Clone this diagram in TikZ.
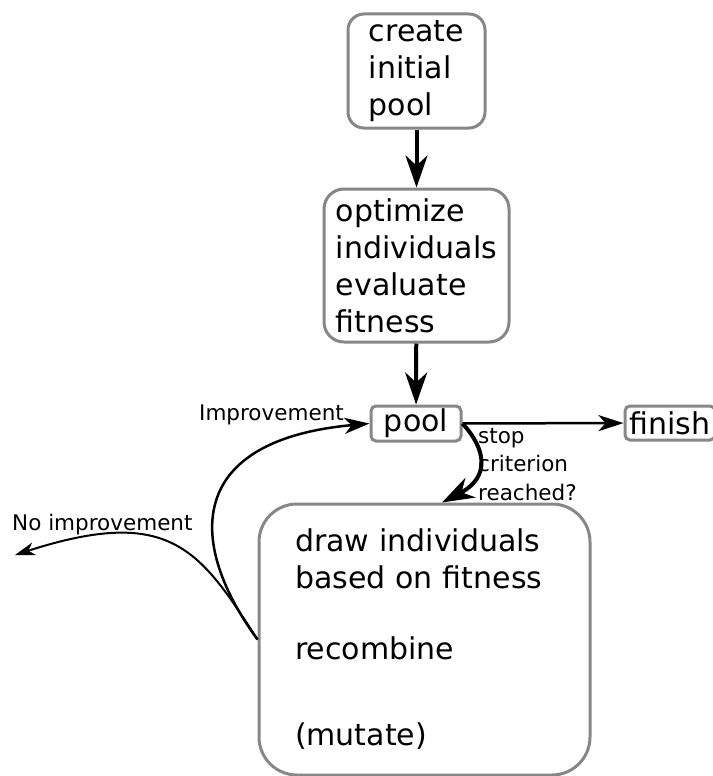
\documentclass[tikz,border=0pt]{standalone}
\usepackage{fontspec}
\setmainfont{DejaVu Sans}
\usetikzlibrary{arrows.meta}
\definecolor{boxgray}{HTML}{878787}
\newcommand{\bigtxt}{\fontsize{30}{37}\selectfont}
\newcommand{\smalltxt}{\fontsize{21.5}{28.5}\selectfont}
\tikzset{
	box/.style={draw=boxgray, line width=3pt, rounded corners=#1, inner sep=0pt, align=left, font=\bigtxt},
	box/.default=15pt,
	flow/.style={line width=4pt, -{Stealth[length=32pt, width=22pt, inset=10pt]}},
	thinflow/.style={line width=2.5pt, -{Stealth[length=25pt, width=16pt, inset=7pt]}},
	lbl/.style={inner sep=0pt, font=\smalltxt},
}

\begin{document}
\begin{tikzpicture}[x=1pt, y=-1pt]
	%%%%% START %%%%%
	\def\w{712}
	\def\h{776}
	\useasboundingbox (0,0) rectangle (\w,\h);

	\node[box=16pt, minimum width=137pt, minimum height=114pt] (create) at (416.5,71) {create\\initial\\pool};
	\node[box=20pt, minimum width=185pt, minimum height=153pt] (optimize) at (416.5,265.5) {optimize\\individuals\\evaluate\\fitness};
	\node[box=5pt, minimum width=90pt, minimum height=35pt] (pool) at (416,423.5) {pool};
	\node[box=5pt, minimum width=90pt, minimum height=34pt] (finish) at (670,423) {finish};
	\node[box=38pt, minimum width=331pt, minimum height=271pt, text width=259pt] (breed) at (424.5,639.5) {draw individuals\\based on fitness\\[34pt]recombine\\[49pt](mutate)};

	\draw[flow] (create) -- (optimize);
	\draw[flow] (optimize) -- (pool);
	\draw[thinflow] (pool) -- (finish);
	\draw[flow] (pool.east) .. controls +(24,26) and +(48,-25) .. ([xshift=17.5pt]breed.north);

	% back from the offspring
	\coordinate (lost) at (15,555);
	\draw[thinflow] (breed.west) .. controls +(-73,-100) and +(-181,16.5) .. (pool.west);
	\draw[line width=2pt, -{Stealth[length=20pt, width=13pt, inset=6pt]}] (breed.west) .. controls +(-58,-90) and +(155,-50) .. (lost);

	\node[lbl, anchor=base east] (imp) at (344,420) {Improvement};
	\node[lbl, anchor=base west] (noimp) at (12,530) {No improvement};
	\node[lbl, anchor=north west, align=left] (stop) at (478,428) {stop\\criterion\\reached?};
	%%%%% START %%%%%
\end{tikzpicture}
\end{document}
